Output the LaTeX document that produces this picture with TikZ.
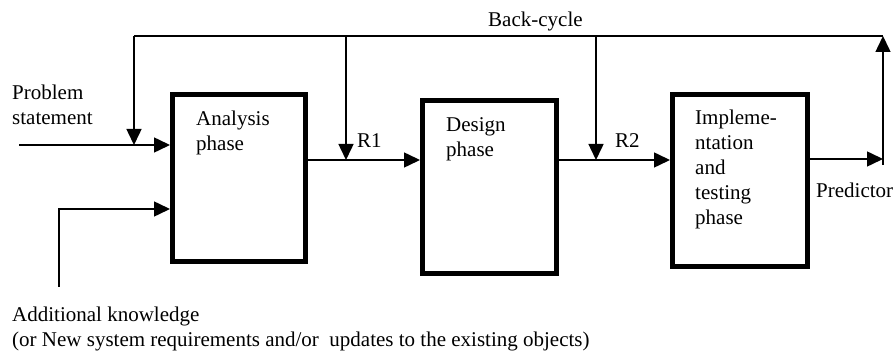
\documentclass[tikz,border=0pt]{standalone}
\usepackage{fontspec}
\setmainfont{Liberation Serif}
\usetikzlibrary{arrows.meta}
\begin{document}
\begin{tikzpicture}[x=1pt,y=-1pt,
  every node/.style={font=\fontsize{21}{25}\selectfont},
  phasebox/.style={draw,line width=5pt,inner sep=0pt,minimum width=133pt,minimum height=167pt},
  lbl/.style={anchor=base west,inner sep=0pt,align=left},
  conn/.style={line width=1.5pt},
  arr/.style={conn,-{Triangle[length=16pt,width=15pt]}}]
\useasboundingbox (0,0) rectangle (896,352);
% boxes
\node[phasebox] (A) at (239,178) {};
\node[phasebox,minimum width=134pt,minimum height=173pt] (D) at (489.5,187) {};
\node[phasebox,minimum width=135pt,minimum height=172pt] (I) at (740,180.5) {};
% box texts (anchor = baseline of last line)
\node[lbl] (tA) at (196,151) {Analysis\\phase};
\node[lbl] (tD) at (446,157) {Design\\phase};
\node[lbl] (tI) at (695,225) {Impleme-\\ntation\\and\\testing\\phase};
% outside labels
\node[lbl] (tP) at (12,125) {Problem\\statement};
\node[lbl] (tK) at (12,346) {Additional knowledge\\(or New system requirements and/or\ \ updates to the existing objects)};
\node[lbl] (tB) at (488,27) {Back-cycle};
\node[lbl] (tR1) at (357,148) {R1};
\node[lbl] (tR2) at (615,148) {R2};
\node[lbl] (tO) at (816,198) {Predictor};
% coordinates
\coordinate (ps) at (19,145);
\coordinate (ak) at (59,287);
\coordinate (akc) at (59,209);
\coordinate (bl) at (134,36);
\coordinate (b1) at (346,36);
\coordinate (b2) at (596,36);
\coordinate (br) at (883,36);
\coordinate (out) at (883,159);
\coordinate (outlow) at (883,165);
\coordinate (r1) at (346,160);
\coordinate (r2) at (596,160);
% connectors
\draw[arr] (ps) -- (ps -| A.west);
\draw[arr] (ak) -- (akc) -- (akc -| A.west);
\draw[conn] (bl) -- (br);
\draw[arr] (bl) -- (bl |- ps);
\draw[arr] (b1) -- (r1);
\draw[arr] (b2) -- (r2);
\draw[arr] (r1 -| A.east) -- (r1 -| D.west);
\draw[arr] (r2 -| D.east) -- (r2 -| I.west);
\draw[arr] (out -| I.east) -- (out);
\draw[arr] (outlow) -- (br);
\end{tikzpicture}
\end{document}
